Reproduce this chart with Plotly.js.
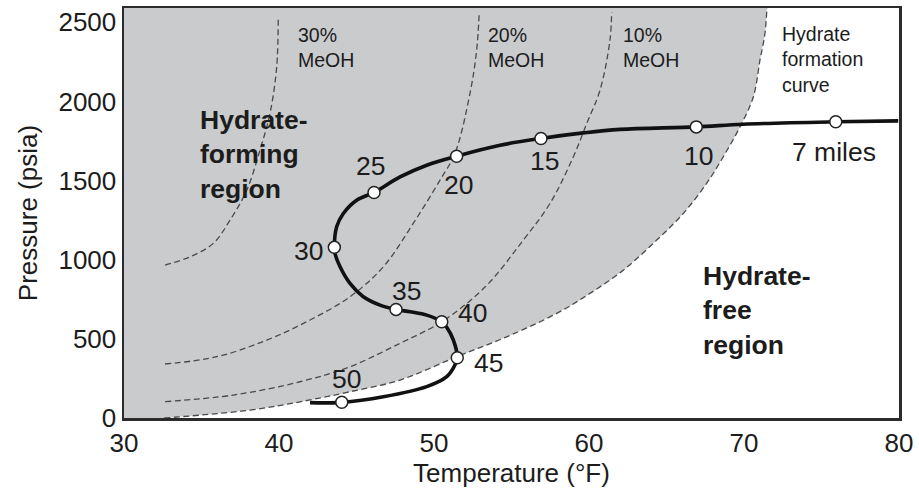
<!DOCTYPE html>
<html>
<head>
<meta charset="utf-8">
<script src="https://cdn.plot.ly/plotly-3.0.1.min.js"></script>
<style>html,body{margin:0;padding:0;background:#fff;}#chart{width:919px;height:494px;}</style>
</head>
<body>
<div id="chart"></div>
<script>
// ---- data ----
// Pipeline temperature/pressure profile (thick line)
const profileT = [42.0, 44.05, 46.73, 49.53, 50.82, 51.35, 51.50, 51.25, 50.82, 50.50, 49.53, 48.45, 47.55, 46.52, 45.44, 44.58, 43.94, 43.61, 43.57, 43.72, 44.15, 45.01, 46.13, 47.81, 49.53, 51.46, 54.26, 56.90, 59.63, 62.0, 66.92, 69.95, 75.92, 79.95];
const profileP = [97, 99, 134, 198, 261, 335, 381, 492, 573, 608, 650, 671, 686, 713, 766, 850, 955, 1040, 1078, 1208, 1292, 1376, 1425, 1523, 1597, 1654, 1723, 1766, 1801, 1823, 1839, 1856, 1871, 1877];

// Distance markers along the profile
const mileLabels = ["7 miles", "10", "15", "20", "25", "30", "35", "40", "45", "50"];
const mileT = [75.92, 66.92, 56.90, 51.46, 46.13, 43.57, 47.55, 50.50, 51.50, 44.05];
const mileP = [1871, 1839, 1766, 1654, 1425, 1078, 686, 608, 381, 99];

// Hydrate formation curve (no inhibitor)
const hydrateT = [32.6, 38.13, 42.0, 44.58, 47.81, 51.46, 54.69, 57.92, 60.06, 62.21, 64.37, 66.08, 67.59, 68.66, 69.74, 70.6, 71.03, 71.35, 71.48];
const hydrateP = [0, 50, 114, 166, 240, 387, 513, 661, 787, 934, 1124, 1292, 1482, 1650, 1839, 2028, 2260, 2429, 2590];

// Hydrate curves with methanol
const meoh10T = [32.65, 37.05, 41.35, 44.58, 47.81, 50.50, 53.29, 55.76, 57.48, 58.99, 59.85, 60.71, 61.35, 61.46];
const meoh10P = [103, 145, 229, 324, 472, 608, 827, 1124, 1355, 1650, 1860, 2071, 2386, 2565];
const meoh20T = [32.65, 35.98, 39.21, 42.0, 44.58, 46.73, 48.66, 50.39, 51.35, 52.32, 52.75, 52.92];
const meoh20P = [341, 387, 492, 619, 766, 955, 1229, 1503, 1671, 2050, 2323, 2565];
const meoh30T = [32.65, 34.26, 35.76, 36.84, 37.92, 38.77, 39.42, 39.85, 39.95];
const meoh30P = [966, 1018, 1103, 1250, 1439, 1692, 1925, 2218, 2533];

const xTicks = [30, 40, 50, 60, 70, 80];
const yTicks = [0, 500, 1000, 1500, 2000, 2500];

// ---- styling / layout ----
const FONT = "Liberation Sans, Arial, Helvetica, sans-serif";
const TXT = "#1c1c1c";
const dashStyle = {color: "#4a4a4a", width: 1.3, dash: "6px,3.5px", shape: "spline", smoothing: 1};

// pixel offsets of each distance label from its marker [dx right, dy down]
const labelOffsets = [[-2, 30], [2, 29], [4, 23], [2, 29], [-4, -26], [-26, 4], [10, -18], [31, -9], [31, 5], [5, -23]];

const traces = [
  {x: hydrateT, y: hydrateP, mode: "lines", fill: "tozerox", fillcolor: "#c9cbcc", line: dashStyle, hoverinfo: "skip"},
  {x: meoh10T, y: meoh10P, mode: "lines", line: dashStyle, hoverinfo: "skip"},
  {x: meoh20T, y: meoh20P, mode: "lines", line: dashStyle, hoverinfo: "skip"},
  {x: meoh30T, y: meoh30P, mode: "lines", line: dashStyle, hoverinfo: "skip"},
  {x: profileT, y: profileP, mode: "lines", line: {color: "#111", width: 3.6, shape: "spline", smoothing: 1}, hoverinfo: "skip"},
  {x: mileT, y: mileP, mode: "markers", marker: {size: 12, color: "#fff", line: {color: "#222", width: 1.5}}, hoverinfo: "skip"}
];

const annotations = mileLabels.map((t, i) => ({
  x: mileT[i], y: mileP[i], xref: "x", yref: "y", text: t, showarrow: false,
  xanchor: "center", yanchor: "middle",
  xshift: labelOffsets[i][0], yshift: -labelOffsets[i][1],
  font: {family: FONT, size: 26.5, color: TXT}
}));

// plot area in pixels: left 124, right 899, top 8, bottom 418
function px(xp) { return (xp - 124) / 775; }
function py(yp) { return (418 - yp) / 410; }
function note(text, xp, yp, size, bold) {
  annotations.push({xref: "paper", yref: "paper", x: px(xp), y: py(yp), text: bold ? "<b>" + text + "</b>" : text,
    showarrow: false, xanchor: "left", yanchor: "middle", align: "left",
    font: {family: FONT, size: size, color: TXT}});
}
note("30%<br>MeOH", 296, 48, 19.5, false);
note("20%<br>MeOH", 486, 48, 19.5, false);
note("10%<br>MeOH", 621, 48, 19.5, false);
note("Hydrate<br>formation<br>curve", 780, 59, 19.5, false);
note("Hydrate-<br>forming<br>region", 198, 154, 26.5, true);
note("Hydrate-<br>free<br>region", 701, 310, 26.5, true);

const axisCommon = {
  showgrid: false, zeroline: false, showline: true, mirror: true,
  linecolor: "#2b2b2b", linewidth: 2.5, ticks: "",
  tickfont: {family: FONT, size: 26, color: TXT}
};

const layout = {
  width: 919, height: 494,
  margin: {l: 124, r: 20, t: 8, b: 76},
  paper_bgcolor: "#fff", plot_bgcolor: "#fff",
  showlegend: false,
  xaxis: Object.assign({}, axisCommon, {range: [30, 80], tickvals: xTicks,
    title: {text: "Temperature (°F)", font: {family: FONT, size: 26, color: TXT}, standoff: 3}}),
  yaxis: Object.assign({}, axisCommon, {range: [0, 2590], tickvals: yTicks,
    title: {text: "Pressure (psia)", font: {family: FONT, size: 26, color: TXT}, standoff: 14}}),
  annotations: annotations
};

Plotly.newPlot("chart", traces, layout, {displayModeBar: false, staticPlot: true});
</script>
</body>
</html>
